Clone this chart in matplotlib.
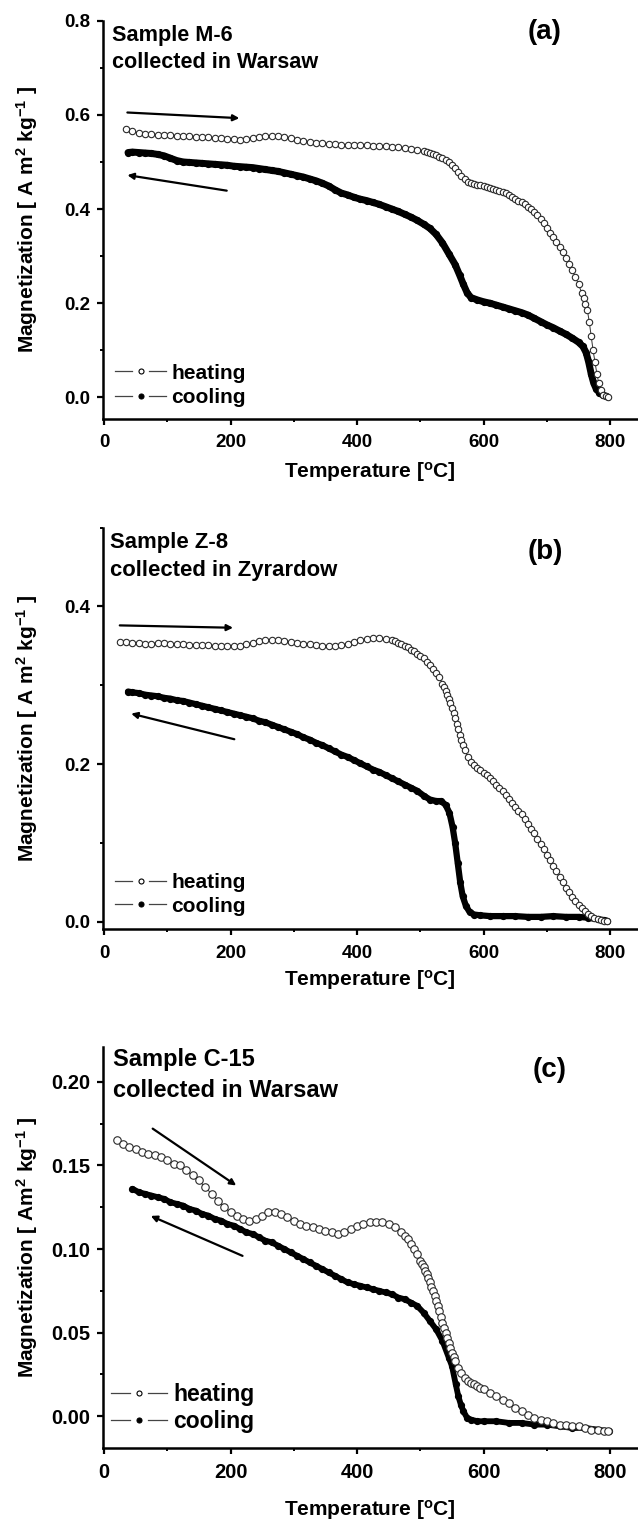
import matplotlib
matplotlib.use('Agg')
import matplotlib.pyplot as plt
from matplotlib.lines import Line2D
from matplotlib.legend_handler import HandlerBase
from matplotlib.ticker import MultipleLocator

plt.rcParams['font.family'] = ['Liberation Sans', 'DejaVu Sans']
plt.rcParams['font.weight'] = 'bold'
plt.rcParams['mathtext.fontset'] = 'custom'
plt.rcParams['mathtext.rm'] = 'Liberation Sans:bold'
plt.rcParams['mathtext.it'] = 'Liberation Sans:bold'
plt.rcParams['mathtext.bf'] = 'Liberation Sans:bold'
plt.rcParams['mathtext.default'] = 'rm'

# ---------------- Panel (a): Sample M-6 ----------------
a_heat_T = [35, 45, 55, 65, 75, 85, 95, 105, 115, 125, 135, 145, 155, 165, 175, 185, 195, 205, 215,
            225, 235, 245, 255, 265, 275, 285, 295, 305, 315, 325, 335, 345, 355, 365, 375, 385, 395,
            405, 415, 425, 435, 445, 455, 465, 475, 485, 495, 505, 510, 515, 520, 525, 530, 535, 540,
            545, 550, 555, 560, 565, 570, 575, 580, 585, 590, 595, 600, 605, 610, 615, 620, 625, 630,
            635, 640, 645, 650, 655, 660, 665, 670, 675, 680, 685, 690, 695, 700, 705, 710, 715, 720,
            725, 730, 735, 740, 745, 750, 755, 758, 761, 764, 767, 770, 773, 776, 779, 782, 785, 789,
            793, 796]
a_heat_M = [0.570, 0.565, 0.562, 0.560, 0.559, 0.558, 0.558, 0.557, 0.556, 0.556, 0.555, 0.554, 0.553,
            0.552, 0.551, 0.550, 0.549, 0.548, 0.547, 0.549, 0.551, 0.553, 0.555, 0.556, 0.556, 0.553,
            0.550, 0.547, 0.544, 0.542, 0.541, 0.540, 0.539, 0.538, 0.537, 0.537, 0.536, 0.535, 0.535,
            0.534, 0.533, 0.533, 0.532, 0.531, 0.530, 0.528, 0.526, 0.523, 0.521, 0.519, 0.517, 0.514,
            0.511, 0.508, 0.504, 0.500, 0.494, 0.487, 0.479, 0.470, 0.463, 0.458, 0.455, 0.453, 0.451,
            0.450, 0.448, 0.447, 0.445, 0.443, 0.441, 0.439, 0.436, 0.433, 0.430, 0.426, 0.422, 0.418,
            0.414, 0.410, 0.405, 0.400, 0.394, 0.387, 0.379, 0.370, 0.360, 0.350, 0.340, 0.330, 0.319,
            0.308, 0.296, 0.284, 0.270, 0.256, 0.240, 0.222, 0.210, 0.198, 0.185, 0.160, 0.130, 0.100,
            0.075, 0.050, 0.030, 0.015, 0.006, 0.002, 0.000]
a_cool_T = [38, 45, 55, 65, 75, 85, 95, 105, 115, 125, 135, 145, 155, 165, 175, 185, 195, 205, 215,
            225, 235, 245, 255, 265, 275, 285, 295, 305, 315, 325, 335, 345, 355, 365, 375, 385, 395,
            405, 415, 425, 435, 445, 455, 465, 475, 485, 495, 505, 515, 525, 535, 545, 555, 562, 568,
            574, 580, 590, 600, 610, 620, 630, 640, 650, 660, 670, 680, 690, 700, 710, 720, 730, 740,
            750, 757, 762, 766, 770, 774, 778, 783, 788, 794]
a_cool_M = [0.520, 0.521, 0.520, 0.519, 0.518, 0.516, 0.513, 0.508, 0.503, 0.500, 0.499, 0.498, 0.497,
            0.496, 0.495, 0.494, 0.493, 0.491, 0.490, 0.489, 0.488, 0.486, 0.484, 0.482, 0.480, 0.477,
            0.474, 0.471, 0.468, 0.464, 0.460, 0.455, 0.449, 0.441, 0.434, 0.430, 0.425, 0.421, 0.418,
            0.414, 0.410, 0.405, 0.400, 0.395, 0.389, 0.383, 0.376, 0.368, 0.359, 0.346, 0.328, 0.305,
            0.282, 0.260, 0.240, 0.222, 0.212, 0.207, 0.203, 0.200, 0.196, 0.192, 0.188, 0.184, 0.180,
            0.175, 0.168, 0.161, 0.154, 0.148, 0.141, 0.134, 0.126, 0.117, 0.108, 0.095, 0.075, 0.050,
            0.030, 0.018, 0.010, 0.005, 0.002]

# ---------------- Panel (b): Sample Z-8 ----------------
b_heat_T = [25, 35, 45, 55, 65, 75, 85, 95, 105, 115, 125, 135, 145, 155, 165, 175, 185, 195, 205,
            215, 225, 235, 245, 255, 265, 275, 285, 295, 305, 315, 325, 335, 345, 355, 365, 375, 385,
            395, 405, 415, 425, 435, 445, 455, 460, 465, 470, 475, 480, 485, 490, 495, 500, 505, 510,
            515, 520, 525, 530, 535, 537.5, 540, 542.5, 545, 547.5, 550, 552.5, 555, 557.5, 560, 562.5,
            565, 567.5, 570, 575, 580, 585, 590, 595, 600, 605, 610, 615, 620, 625, 630, 635, 640, 645,
            650, 655, 660, 665, 670, 675, 680, 685, 690, 695, 700, 705, 710, 715, 720, 725, 730, 735,
            740, 745, 750, 755, 760, 765, 770, 775, 780, 785, 790, 795]
b_heat_M = [0.355, 0.355, 0.354, 0.354, 0.353, 0.353, 0.354, 0.354, 0.353, 0.352, 0.352, 0.351, 0.351,
            0.351, 0.351, 0.350, 0.350, 0.350, 0.350, 0.350, 0.352, 0.354, 0.356, 0.358, 0.358, 0.357,
            0.356, 0.355, 0.354, 0.353, 0.352, 0.351, 0.350, 0.350, 0.350, 0.351, 0.353, 0.355, 0.357,
            0.359, 0.360, 0.360, 0.359, 0.357, 0.356, 0.354, 0.352, 0.350, 0.348, 0.345, 0.343, 0.340,
            0.337, 0.334, 0.330, 0.326, 0.321, 0.316, 0.310, 0.302, 0.298, 0.293, 0.288, 0.283, 0.277,
            0.271, 0.265, 0.258, 0.251, 0.244, 0.237, 0.230, 0.224, 0.218, 0.209, 0.203, 0.199, 0.195,
            0.192, 0.189, 0.186, 0.182, 0.178, 0.174, 0.170, 0.166, 0.161, 0.156, 0.151, 0.146, 0.141,
            0.136, 0.130, 0.124, 0.118, 0.112, 0.105, 0.099, 0.092, 0.085, 0.078, 0.071, 0.064, 0.057,
            0.050, 0.043, 0.037, 0.031, 0.026, 0.021, 0.017, 0.013, 0.010, 0.007, 0.005, 0.003, 0.002,
            0.001, 0.001]
b_cool_T = [38, 45, 55, 65, 75, 85, 95, 105, 115, 125, 135, 145, 155, 165, 175, 185, 195, 205, 215,
            225, 235, 245, 255, 265, 275, 285, 295, 305, 315, 325, 335, 345, 355, 365, 375, 385, 395,
            405, 415, 425, 435, 445, 455, 465, 475, 485, 495, 505, 515, 525, 533, 540, 546, 551, 555,
            559, 563, 567, 572, 578, 585, 595, 610, 630, 650, 670, 690, 710, 730, 750, 765, 780, 790,
            795]
b_cool_M = [0.292, 0.291, 0.290, 0.288, 0.287, 0.286, 0.284, 0.283, 0.281, 0.280, 0.278, 0.276, 0.274,
            0.272, 0.270, 0.268, 0.266, 0.264, 0.262, 0.260, 0.258, 0.255, 0.253, 0.250, 0.247, 0.244,
            0.241, 0.238, 0.234, 0.231, 0.227, 0.224, 0.220, 0.216, 0.212, 0.209, 0.205, 0.201, 0.197,
            0.193, 0.190, 0.186, 0.182, 0.178, 0.174, 0.170, 0.166, 0.160, 0.155, 0.153, 0.153, 0.148,
            0.138, 0.120, 0.100, 0.075, 0.050, 0.032, 0.020, 0.012, 0.009, 0.008, 0.007, 0.007, 0.007,
            0.006, 0.006, 0.007, 0.006, 0.006, 0.005, 0.003, 0.002, 0.001]

# ---------------- Panel (c): Sample C-15 ----------------
c_heat_T = [20, 30, 40, 50, 60, 70, 80, 90, 100, 110, 120, 130, 140, 150, 160, 170, 180, 190, 200,
            210, 220, 230, 240, 250, 260, 270, 280, 290, 300, 310, 320, 330, 340, 350, 360, 370, 380,
            390, 400, 410, 420, 430, 440, 450, 460, 470, 475, 480, 485, 490, 495, 500, 502.5, 505,
            507.5, 510, 512.5, 515, 517.5, 520, 522.5, 525, 527.5, 530, 532.5, 535, 537.5, 540, 542.5,
            545, 547.5, 550, 552.5, 555, 560, 565, 570, 575, 580, 585, 590, 595, 600, 610, 620, 630,
            640, 650, 660, 670, 680, 690, 700, 710, 720, 730, 740, 750, 760, 770, 780, 790, 797]
c_heat_M = [0.165, 0.163, 0.161, 0.160, 0.158, 0.157, 0.156, 0.155, 0.153, 0.151, 0.150, 0.147, 0.144,
            0.141, 0.137, 0.133, 0.129, 0.125, 0.122, 0.120, 0.118, 0.117, 0.118, 0.120, 0.122, 0.122,
            0.121, 0.119, 0.117, 0.115, 0.114, 0.113, 0.112, 0.111, 0.110, 0.109, 0.110, 0.112, 0.114,
            0.115, 0.116, 0.116, 0.116, 0.115, 0.113, 0.110, 0.108, 0.106, 0.103, 0.100, 0.097, 0.093,
            0.091, 0.089, 0.087, 0.085, 0.0825, 0.080, 0.0775, 0.075, 0.072, 0.069, 0.066, 0.063,
            0.0595, 0.056, 0.053, 0.050, 0.047, 0.044, 0.041, 0.038, 0.0355, 0.033, 0.029, 0.026, 0.023,
            0.021, 0.020, 0.019, 0.018, 0.017, 0.016, 0.014, 0.012, 0.010, 0.008, 0.005, 0.003, 0.001,
            -0.001, -0.002, -0.003, -0.004, -0.005, -0.005, -0.006, -0.006, -0.007, -0.008, -0.008,
            -0.009, -0.009]
c_cool_T = [45, 55, 65, 75, 85, 95, 105, 115, 125, 135, 145, 155, 165, 175, 185, 195, 205, 215, 225,
            235, 245, 255, 265, 275, 285, 295, 305, 315, 325, 335, 345, 355, 365, 375, 385, 395, 405,
            415, 425, 435, 445, 455, 465, 475, 485, 495, 505, 515, 525, 535, 545, 550, 556, 560, 564,
            568, 574, 580, 590, 600, 620, 640, 660, 680, 700, 720, 740, 760, 780, 798]
c_cool_M = [0.136, 0.134, 0.133, 0.132, 0.131, 0.130, 0.128, 0.127, 0.126, 0.124, 0.123, 0.121, 0.120,
            0.118, 0.117, 0.115, 0.114, 0.112, 0.110, 0.109, 0.107, 0.105, 0.104, 0.102, 0.100, 0.098,
            0.096, 0.094, 0.092, 0.090, 0.088, 0.086, 0.084, 0.082, 0.080, 0.079, 0.078, 0.077, 0.076,
            0.075, 0.074, 0.073, 0.071, 0.070, 0.068, 0.066, 0.062, 0.057, 0.052, 0.045, 0.035, 0.030,
            0.019, 0.012, 0.007, 0.003, -0.001, -0.002, -0.003, -0.003, -0.003, -0.004, -0.004, -0.005,
            -0.005, -0.006, -0.007, -0.007, -0.008, -0.009]

# arrows: (tail T, tail M, head T, head M)
a_arrows = [(37, 0.605, 214, 0.593), (194, 0.439, 37, 0.472)]
b_arrows = [(25, 0.376, 204, 0.373), (206, 0.2315, 43, 0.264)]
c_arrows = [(77, 0.172, 209, 0.138), (219, 0.0959, 74, 0.1198)]

panel_letters = ['(a)', '(b)', '(c)']
sample_names = ['Sample M-6', 'Sample Z-8', 'Sample C-15']
sample_places = ['collected in Warsaw', 'collected in Zyrardow', 'collected in Warsaw']
ylabels = ['Magnetization [ A m$^2$ kg$^{-1}$ ]', 'Magnetization [ A m$^2$ kg$^{-1}$ ]',
           'Magnetization [ Am$^2$ kg$^{-1}$ ]']
xlabel = 'Temperature [$^{o}$C]'
legend_labels = ['heating', 'cooling']
ytick_fmt = ['{:.1f}', '{:.1f}', '{:.2f}']


class GapLineHandler(HandlerBase):
    def __init__(self, filled, ms):
        super().__init__()
        self.filled = filled
        self.ms = ms

    def create_artists(self, legend, orig_handle, xdescent, ydescent, width, height, fontsize, trans):
        y = (height - ydescent) / 2.0
        x0 = -xdescent
        x1 = -xdescent + width
        xm = 0.5 * (x0 + x1)
        gap = width * 0.16
        s1 = Line2D([x0, xm - gap], [y, y], color='#444444', lw=0.9)
        s2 = Line2D([xm + gap, x1], [y, y], color='#444444', lw=0.9)
        mk = Line2D([xm], [y], ls='none', marker='o', ms=self.ms,
                    mfc='black' if self.filled else 'white', mec='black', mew=0.8)
        for art in (s1, s2, mk):
            art.set_transform(trans)
        return [s1, s2, mk]


fig = plt.figure(figsize=(6.38, 15.22), dpi=100)
H = 1522.0
W = 638.0
left_px = 102.7
boxes = [(20.7, 419.0), (527.7, 929.5), (1046.7, 1448.0)]
ylims = [(-0.046, 0.8), (-0.01, 0.5), (-0.019, 0.221)]
ymaj = [0.2, 0.2, 0.05]
ymin = [0.1, 0.1, 0.025]
tick_fs = [13.5, 13.5, 14.5]
sample_fs = [15.6, 15.9, 17]
legend_fs = [15, 15, 16.5]
legend_pos = [(0.023, 0.084), (0.023, 0.087), (0.016, 0.100)]
legend_spacing = [0.28, 0.2, 0.2]
sample_y = [(0.950, 0.8805), (0.9487, 0.8798), (0.952, 0.875)]
sample_x = [0.017, 0.014, 0.020]
letter_pos = [(0.826, 0.972), (0.826, 0.940), (0.835, 0.942)]
xlabel_y = [-0.103, -0.097, -0.125]

heats = [(a_heat_T, a_heat_M), (b_heat_T, b_heat_M), (c_heat_T, c_heat_M)]
cools = [(a_cool_T, a_cool_M), (b_cool_T, b_cool_M), (c_cool_T, c_cool_M)]
arrows = [a_arrows, b_arrows, c_arrows]
heat_ms = [4.6, 4.6, 5.4]
cool_lw = [5.0, 4.5, 4.2]

for i in range(3):
    top, bot = boxes[i]
    ax = fig.add_axes([left_px / W, 1 - bot / H, 1 - left_px / W, (bot - top) / H])
    ax.set_xlim(-2, 844)
    ax.set_ylim(*ylims[i])
    for s in ('top', 'right'):
        ax.spines[s].set_visible(False)
    for s in ('left', 'bottom'):
        ax.spines[s].set_linewidth(1.8)

    cT, cM = cools[i]
    hT, hM = heats[i]
    lc, = ax.plot(cT, cM, color='black', lw=cool_lw[i], marker='o', ms=4.2,
                  mfc='black', mec='black', solid_capstyle='round', zorder=3)
    lh, = ax.plot(hT, hM, color='#333333', lw=0.7, marker='o', ms=heat_ms[i],
                  mfc='white', mec='#2a2a2a', mew=0.8, zorder=4)

    ax.xaxis.set_minor_locator(MultipleLocator(100))
    ax.yaxis.set_major_locator(MultipleLocator(ymaj[i]))
    ax.yaxis.set_minor_locator(MultipleLocator(ymin[i]))
    ax.set_xticks([0, 200, 400, 600, 800])
    yt = [t for t in ax.get_yticks() if ylims[i][0] - 1e-9 <= t <= ylims[i][1] + 1e-9]
    ax.set_yticks(yt)
    ax.set_yticklabels([ytick_fmt[i].format(t) for t in yt])
    ax.set_xticklabels(['0', '200', '400', '600', '800'])
    ax.tick_params(axis='both', which='major', direction='out', length=4.5, width=1.6,
                   labelsize=tick_fs[i])
    ax.tick_params(axis='both', which='minor', direction='out', length=2.5, width=1.4)
    ax.tick_params(axis='y', which='major', pad=4.5)
    ax.tick_params(axis='x', which='major', pad=6.5)
    for lab in ax.get_xticklabels() + ax.get_yticklabels():
        lab.set_fontweight('bold')

    ax.set_ylabel(ylabels[i], fontsize=15, fontweight='bold')
    ax.yaxis.set_label_coords(-0.117, 0.5)
    ax.set_xlabel(xlabel, fontsize=15, fontweight='bold')
    ax.xaxis.set_label_coords(0.5, xlabel_y[i])

    for (t0, m0, t1, m1) in arrows[i]:
        ax.annotate('', xy=(t1, m1), xytext=(t0, m0),
                    arrowprops=dict(arrowstyle='-|>', lw=1.6, color='black',
                                    mutation_scale=9, shrinkA=0, shrinkB=0))

    ax.text(sample_x[i], sample_y[i][0], sample_names[i], transform=ax.transAxes,
            fontsize=sample_fs[i], fontweight='bold', va='baseline', ha='left')
    ax.text(sample_x[i], sample_y[i][1], sample_places[i], transform=ax.transAxes,
            fontsize=sample_fs[i], fontweight='bold', va='baseline', ha='left')
    ax.text(letter_pos[i][0], letter_pos[i][1], panel_letters[i], transform=ax.transAxes,
            fontsize=20, fontweight='bold', va='center', ha='center')

    ax.legend([lh, lc], legend_labels, loc='center left', bbox_to_anchor=legend_pos[i],
              frameon=False, borderpad=0, borderaxespad=0, handlelength=2.45,
              handletextpad=0.25, labelspacing=legend_spacing[i],
              prop={'weight': 'bold', 'size': legend_fs[i]},
              handler_map={lh: GapLineHandler(False, 3.6), lc: GapLineHandler(True, 3.6)})

fig.savefig('out.png', dpi=100)
